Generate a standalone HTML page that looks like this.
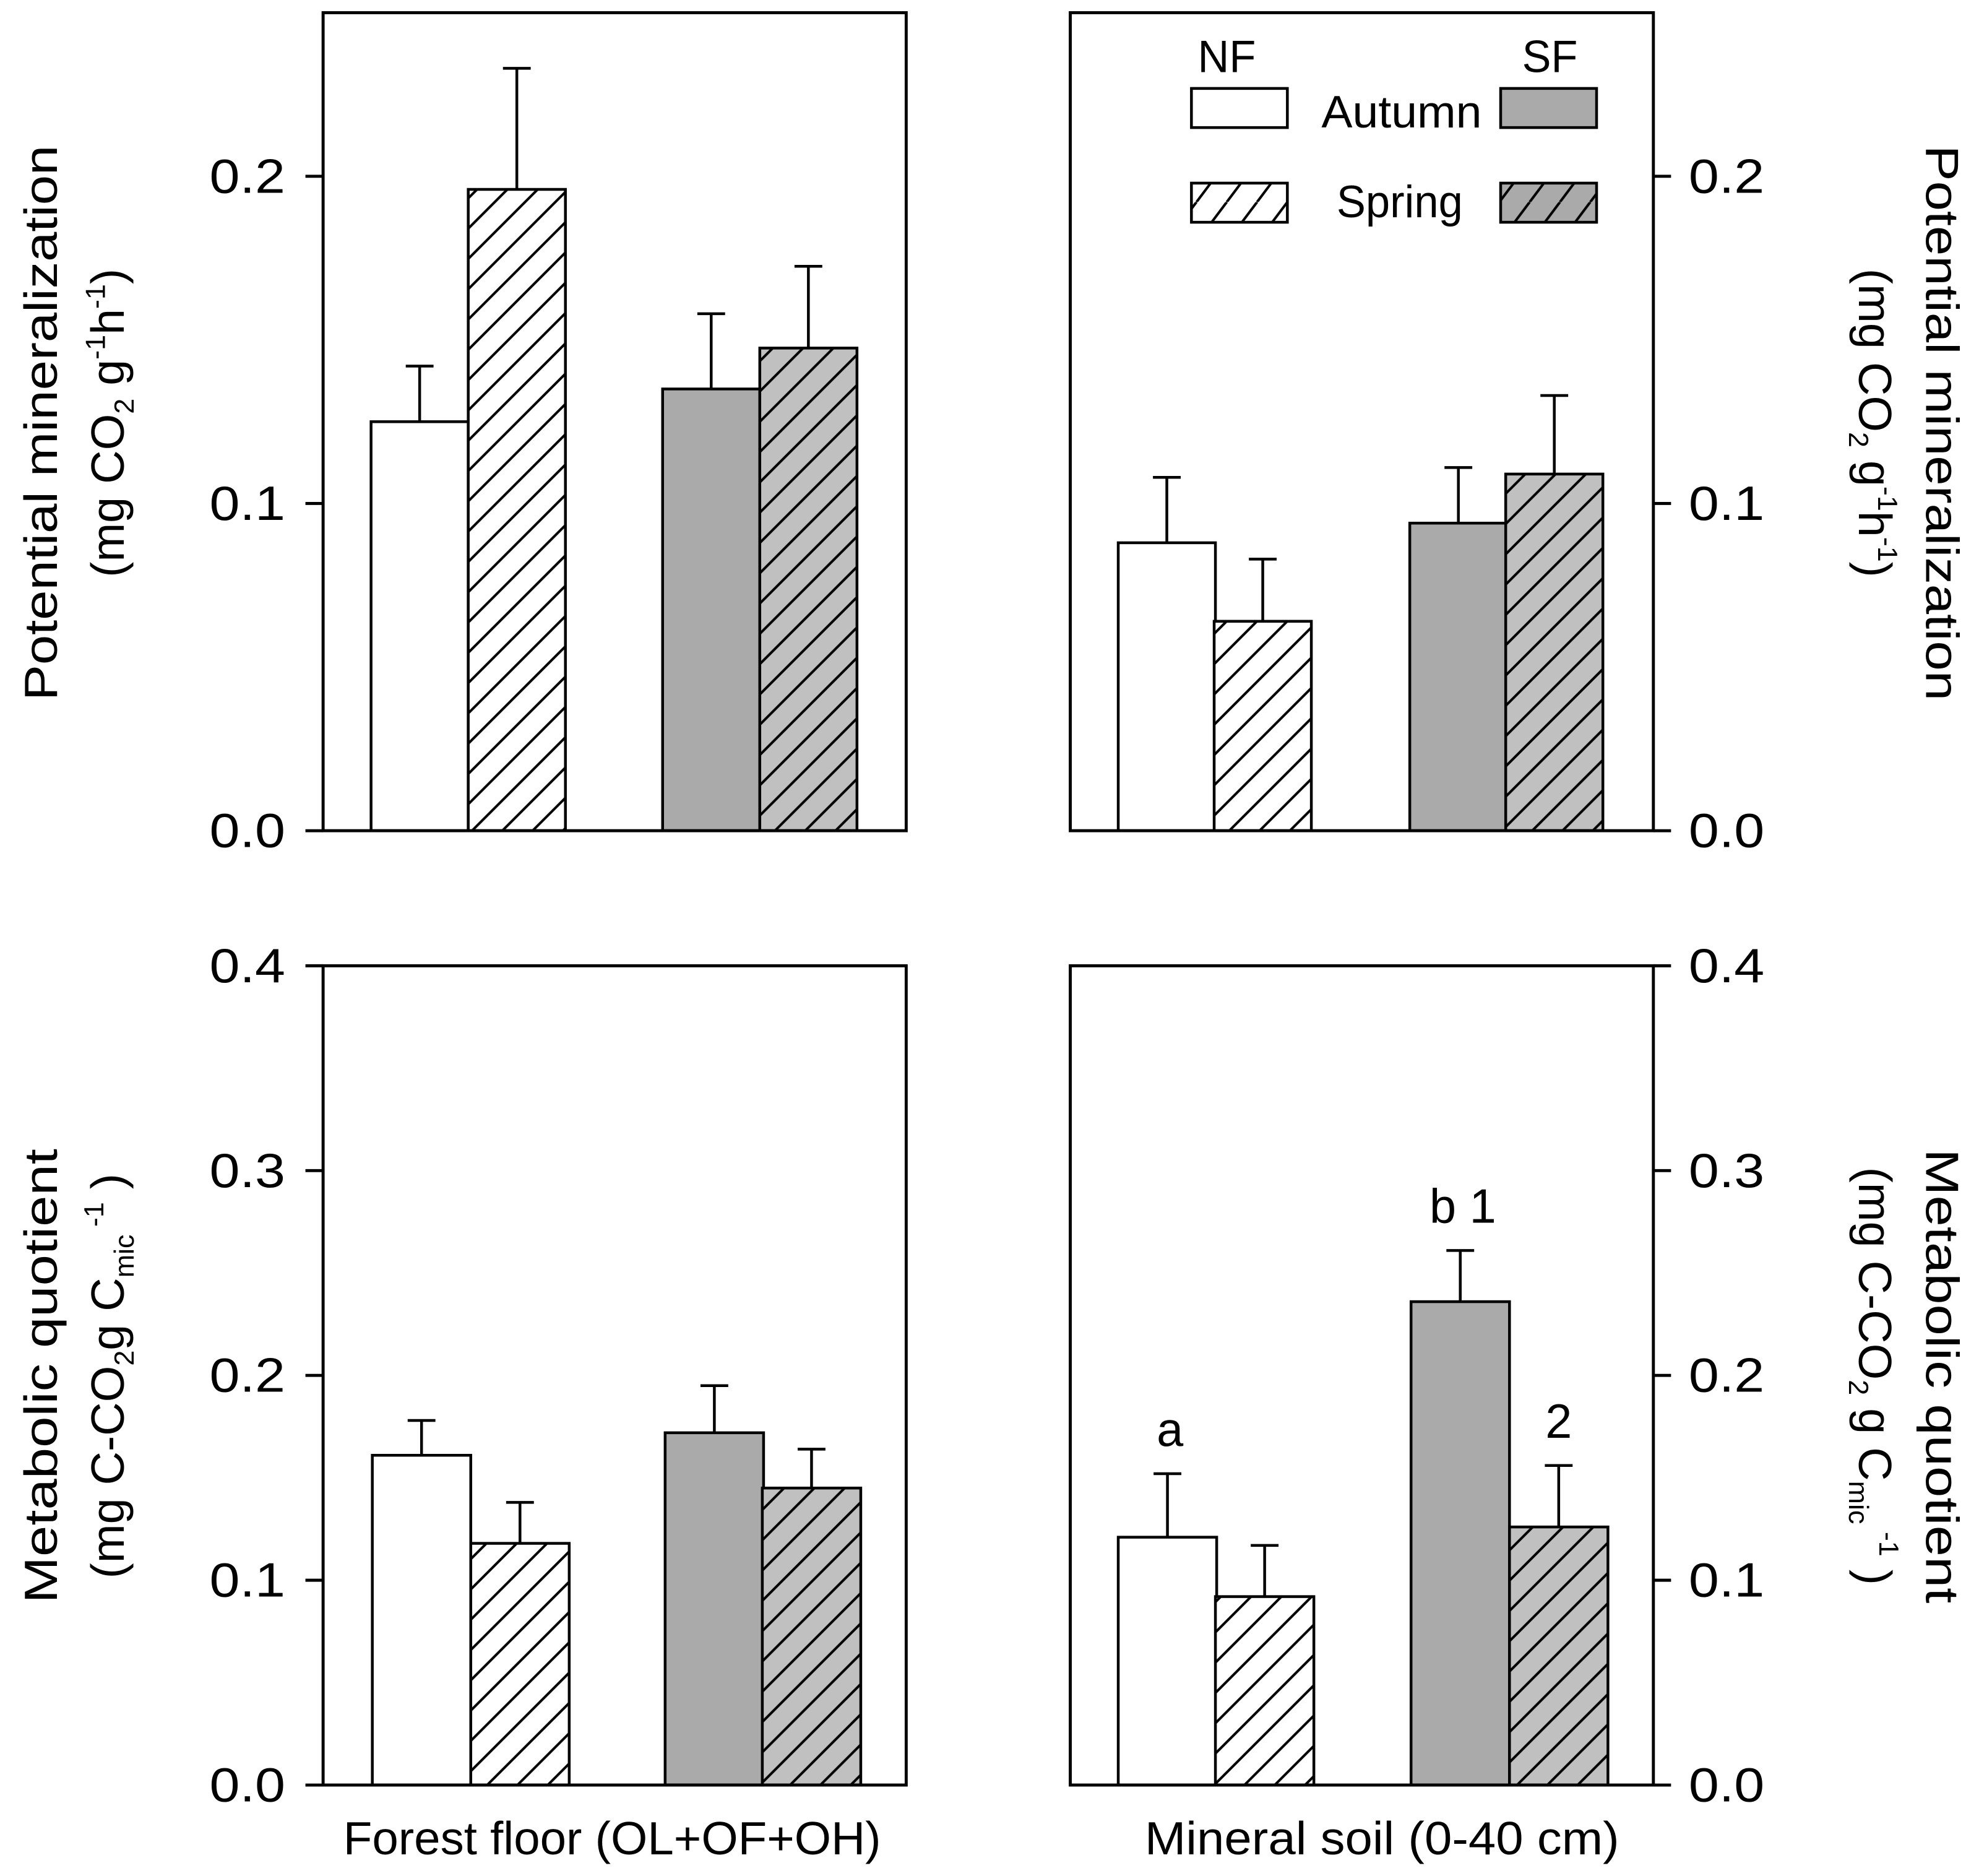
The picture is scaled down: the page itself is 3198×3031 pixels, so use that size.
<!DOCTYPE html>
<html><head><meta charset="utf-8"><style>
html,body{margin:0;padding:0;background:#fff;}
svg{display:block;}
text{font-family:"Liberation Sans",sans-serif;fill:#000;}
</style></head>
<body>
<svg id="chart" xmlns="http://www.w3.org/2000/svg" width="3198" height="3031" viewBox="0 0 1568 1486">
<defs>
<pattern id="hatchW" patternUnits="userSpaceOnUse" width="24" height="24">
<rect width="24" height="24" fill="#fff"/>
<path d="M-6,6 L6,-6 M0,24 L24,0 M18,30 L30,18" stroke="#000" stroke-width="2"/>
</pattern>
<pattern id="hatchG" patternUnits="userSpaceOnUse" width="24" height="24">
<rect width="24" height="24" fill="#c0c0c0"/>
<path d="M-6,6 L6,-6 M0,24 L24,0 M18,30 L30,18" stroke="#000" stroke-width="2"/>
</pattern>
<pattern id="hatchWL" patternUnits="userSpaceOnUse" width="24" height="32">
<rect width="24" height="32" fill="#fff"/>
<path d="M-12,32 L12,0 M12,32 L36,0" stroke="#000" stroke-width="2"/>
</pattern>
<pattern id="hatchGL" patternUnits="userSpaceOnUse" width="24" height="32">
<rect width="24" height="32" fill="#aaaaaa"/>
<path d="M-12,32 L12,0 M12,32 L36,0" stroke="#000" stroke-width="2"/>
</pattern>
</defs>
<g id="layer"></g>
</svg>
<script>
// Data
const categories = ["NF Autumn", "NF Spring", "SF Autumn", "SF Spring"];
const minTL = [0.125, 0.196, 0.135, 0.1475];
const minTLerr = [0.017, 0.037, 0.023, 0.025];
const minTR = [0.088, 0.064, 0.094, 0.109];
const minTRerr = [0.020, 0.019, 0.017, 0.024];
const qBL = [0.161, 0.118, 0.172, 0.145];
const qBLerr = [0.017, 0.020, 0.023, 0.019];
const qBR = [0.121, 0.092, 0.236, 0.126];
const qBRerr = [0.031, 0.025, 0.025, 0.030];
const ticksTop = ["0.0", "0.1", "0.2"];
const tickValsTop = [0, 0.1, 0.2];
const ticksBot = ["0.0", "0.1", "0.2", "0.3", "0.4"];
const tickValsBot = [0, 0.1, 0.2, 0.3, 0.4];
const sigLabelsBR = ["a", "", "b 1", "2"];

const NS = "http://www.w3.org/2000/svg";
const layer = document.getElementById("layer");
function mk(tag, attrs, parent) {
  const e = document.createElementNS(NS, tag);
  for (const k in attrs) e.setAttribute(k, attrs[k]);
  (parent || layer).appendChild(e);
  return e;
}
const fills = ["#fff", "url(#hatchW)", "#aaaaaa", "url(#hatchG)"];

function panel(name, x0, x1, y0, y1, vmax, vals, errs, tickLabels, tickVals, rightAxis, barStarts, barW, sig) {
  const g = mk("g", {});
  
  
  const y = v => y1 - (v / vmax) * (y1 - y0);
  vals.forEach((v, i) => {
    const bx = barStarts[i];
    const r = mk("rect", {x: bx, y: y(v), width: barW, height: y1 - y(v), fill: fills[i], stroke: "#000", "stroke-width": 2.2}, g);
    
    
    const cx = bx + barW / 2;
    const e = mk("path", {d: `M${cx},${y(v)} V${y(v + errs[i])} M${cx - 11},${y(v + errs[i])} H${cx + 11}`, stroke: "#000", "stroke-width": 2.2, fill: "none"}, g);
    
    
    if (sig && sig[i]) {
      const t = mk("text", {x: cx + (sig[i] === "2" ? 0 : 2), y: y(v + errs[i]) - 22, "font-size": 38, "text-anchor": "middle"}, g);
      t.textContent = sig[i];
      
      
    }
  });
  const f = mk("rect", {x: x0, y: y0, width: x1 - x0, height: y1 - y0, fill: "none", stroke: "#000", "stroke-width": 2.4}, g);
  
  
  tickVals.forEach((tv, i) => {
    const ty = y(tv);
    const ax = rightAxis ? x1 : x0;
    const tk = mk("line", {x1: ax, x2: rightAxis ? ax + 14 : ax - 14, y1: ty, y2: ty, stroke: "#000", "stroke-width": 2.4}, g);
    
    
    const t = mk("text", {x: rightAxis ? ax + 28 : ax - 30, y: ty + 13, "font-size": 38, "text-anchor": rightAxis ? "start" : "end", textLength: 60, lengthAdjust: "spacingAndGlyphs"}, g);
    t.textContent = tickLabels[i];
    
    
  });
}
panel("panel-forest-floor-mineralization", 256, 718, 10, 658, 0.25, minTL, minTLerr, ticksTop, tickValsTop, false, [294, 371, 525, 602], 77, null);
panel("panel-mineral-soil-mineralization", 848, 1310, 10, 658, 0.25, minTR, minTRerr, ticksTop, tickValsTop, true, [886, 962, 1117, 1193], 77, null);
panel("panel-forest-floor-quotient", 256, 718, 765, 1414, 0.4, qBL, qBLerr, ticksBot, tickValsBot, false, [295, 373, 527, 604], 78, null);
panel("panel-mineral-soil-quotient", 848, 1310, 765, 1414, 0.4, qBR, qBRerr, ticksBot, tickValsBot, true, [886, 963, 1118, 1196], 78, sigLabelsBR);
</script>
<svg style="position:absolute;left:0;top:0" width="3198" height="3031" viewBox="0 0 1568 1486">
<g font-family="Liberation Sans, sans-serif" font-size="36">
<text x="972" y="57" text-anchor="middle" textLength="46" lengthAdjust="spacingAndGlyphs">NF</text>
<text x="1228" y="57" text-anchor="middle" textLength="44" lengthAdjust="spacingAndGlyphs">SF</text>
<rect x="944" y="70" width="76" height="31" fill="#fff" stroke="#000" stroke-width="2.2"/>
<rect x="1189" y="70" width="76" height="31" fill="#aaaaaa" stroke="#000" stroke-width="2.2"/>
<text x="1047" y="101" textLength="127" lengthAdjust="spacingAndGlyphs">Autumn</text>
<rect x="944" y="145" width="76" height="31" fill="url(#hatchWL)" stroke="#000" stroke-width="2.2"/>
<rect x="1189" y="145" width="76" height="31" fill="url(#hatchGL)" stroke="#000" stroke-width="2.2"/>
<text x="1059" y="172" textLength="100" lengthAdjust="spacingAndGlyphs">Spring</text>
</g>
<g font-family="Liberation Sans, sans-serif" font-size="37">
<text x="272" y="1469" textLength="426" lengthAdjust="spacingAndGlyphs">Forest floor (OL+OF+OH)</text>
<text x="907" y="1469" textLength="376" lengthAdjust="spacingAndGlyphs">Mineral soil (0-40 cm)</text>
<g transform="translate(45,335) rotate(-90)">
<text x="-220" y="0" textLength="440" lengthAdjust="spacingAndGlyphs">Potential mineralization</text>
<text x="0" y="53" text-anchor="middle">(mg CO<tspan font-size="22" dy="8">2</tspan><tspan dy="-8"> g</tspan><tspan font-size="22" dy="-15">-1</tspan><tspan dy="15">h</tspan><tspan font-size="22" dy="-15">-1</tspan><tspan dy="15">)</tspan></text>
</g>
<g transform="translate(1526,335) rotate(90)">
<text x="-220" y="0" textLength="440" lengthAdjust="spacingAndGlyphs">Potential mineralization</text>
<text x="0" y="53" text-anchor="middle">(mg CO<tspan font-size="22" dy="8">2</tspan><tspan dy="-8"> g</tspan><tspan font-size="22" dy="-15">-1</tspan><tspan dy="15">h</tspan><tspan font-size="22" dy="-15">-1</tspan><tspan dy="15">)</tspan></text>
</g>
<g transform="translate(45,1090) rotate(-90)">
<text x="-180" y="0" textLength="360" lengthAdjust="spacingAndGlyphs">Metabolic quotient</text>
<text x="0" y="53" text-anchor="middle">(mg C-CO<tspan font-size="22" dy="8">2</tspan><tspan dy="-8">g C</tspan><tspan font-size="22" dy="8">mic</tspan><tspan font-size="22" dy="-24"> -1</tspan><tspan dy="16"> )</tspan></text>
</g>
<g transform="translate(1526,1090) rotate(90)">
<text x="-180" y="0" textLength="360" lengthAdjust="spacingAndGlyphs">Metabolic quotient</text>
<text x="0" y="53" text-anchor="middle">(mg C-CO<tspan font-size="22" dy="8">2</tspan><tspan dy="-8"> g C</tspan><tspan font-size="22" dy="8">mic</tspan><tspan font-size="22" dy="-24"> -1</tspan><tspan dy="16"> )</tspan></text>
</g>
</g>
</svg>
</body></html>
